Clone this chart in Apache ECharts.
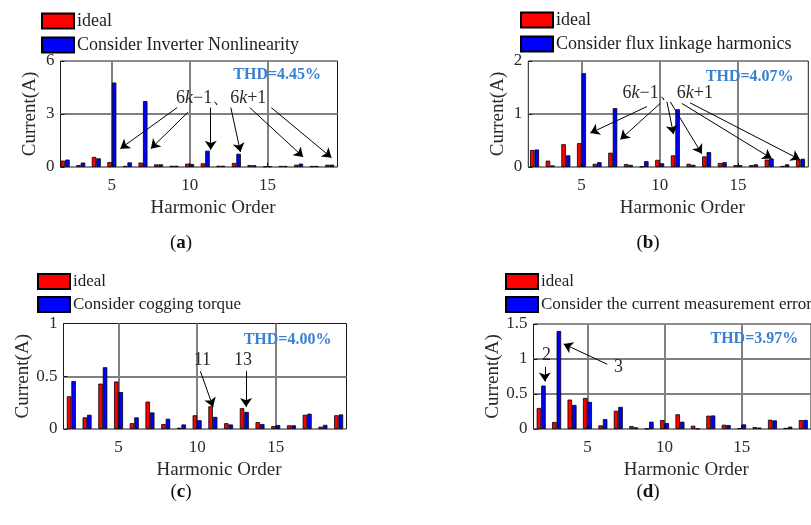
<!DOCTYPE html>
<html>
<head>
<meta charset="utf-8">
<script src="https://cdn.jsdelivr.net/npm/echarts@6/dist/echarts.min.js"></script>
<style>
  html, body { margin: 0; padding: 0; background: #fff; }
  #chart { width: 811px; height: 525px; }
</style>
</head>
<body>
<div id="chart"></div>
<script>
// Harmonic orders shown on every panel
const harmonicOrders = [2, 3, 4, 5, 6, 7, 8, 9, 10, 11, 12, 13, 14, 15, 16, 17, 18, 19];

// (a) inverter nonlinearity
const idealA = [0.36, 0.11, 0.57, 0.28, 0.06, 0.25, 0.15, 0.07, 0.19, 0.21, 0.07, 0.23, 0.11, 0.04, 0.06, 0.13, 0.06, 0.13];
const inverterA = [0.42, 0.25, 0.49, 4.78, 0.26, 3.73, 0.15, 0.07, 0.17, 0.92, 0.07, 0.75, 0.10, 0.04, 0.06, 0.19, 0.06, 0.13];

// (b) flux linkage harmonics
const idealB = [0.32, 0.12, 0.43, 0.45, 0.06, 0.27, 0.055, 0.01, 0.135, 0.22, 0.06, 0.20, 0.075, 0.035, 0.035, 0.14, 0.02, 0.14];
const fluxB = [0.33, 0.03, 0.22, 1.77, 0.09, 1.11, 0.04, 0.11, 0.07, 1.09, 0.04, 0.28, 0.09, 0.035, 0.05, 0.16, 0.05, 0.155];

// (c) cogging torque
const idealC = [0.31, 0.11, 0.43, 0.45, 0.055, 0.26, 0.047, 0.012, 0.13, 0.215, 0.055, 0.197, 0.065, 0.028, 0.035, 0.135, 0.022, 0.13];
const coggingC = [0.455, 0.135, 0.585, 0.35, 0.11, 0.157, 0.097, 0.043, 0.083, 0.115, 0.043, 0.162, 0.047, 0.037, 0.035, 0.145, 0.039, 0.138];

// (d) current measurement error
const idealD = [0.30, 0.10, 0.42, 0.443, 0.052, 0.26, 0.042, 0.005, 0.127, 0.21, 0.047, 0.19, 0.061, 0.012, 0.028, 0.132, 0.015, 0.127];
const measureD = [0.62, 1.40, 0.344, 0.387, 0.14, 0.316, 0.024, 0.104, 0.085, 0.104, 0.006, 0.193, 0.057, 0.066, 0.02, 0.123, 0.033, 0.13];

// Tick labels
const xTickValues = [5, 10, 15];
const thdLabels = ['THD=4.45%', 'THD=4.07%', 'THD=4.00%', 'THD=3.97%'];
const seriesNames = [
  ['ideal', 'Consider Inverter Nonlinearity'],
  ['ideal', 'Consider flux linkage harmonics'],
  ['ideal', 'Consider cogging torque'],
  ['ideal', 'Consider the current measurement error']
];
const panelTags = ['a', 'b', 'c', 'd'];

const SERIF = '"Liberation Serif", "Times New Roman", serif';
const TEXT = '#2a2a2a';

const panels = [
  {
    grid: { left: 60.5, top: 61, width: 277, height: 106 },
    xMin: 1.7, yMax: 6, yStep: 3,
    legend: { left: 41, top: 12, fontSize: 18 },
    values: [idealA, inverterA],
    thdAt: [15.48, 5.19],
    notes: [{ text: '6{i|k}−1、6{i|k}+1', at: [11.88, 3.9] }],
    arrows: [
      [[9.05, 3.36], [5.40, 1.04]],
      [[9.76, 3.11], [7.36, 1.04]],
      [[11.21, 3.36], [11.21, 0.98]],
      [[12.5, 3.36], [13.12, 0.85]],
      [[13.72, 3.36], [17.15, 0.57]],
      [[15.1, 3.36], [18.97, 0.53]]
    ],
    caption: [181, 243]
  },
  {
    grid: { left: 528.3, top: 61, width: 280, height: 106 },
    xMin: 1.6, yMax: 2, yStep: 1,
    legend: { left: 520, top: 11, fontSize: 18 },
    values: [idealB, fluxB],
    thdAt: [15.61, 1.70],
    notes: [{ text: '6{i|k}−1、6{i|k}+1', at: [10.37, 1.39] }],
    arrows: [
      [[9.04, 1.14], [5.42, 0.64]],
      [[9.89, 1.2], [7.34, 0.52]],
      [[10.32, 1.23], [10.74, 0.62]],
      [[10.53, 1.23], [12.55, 0.25]],
      [[11.27, 1.2], [17.02, 0.16]],
      [[11.8, 1.21], [18.82, 0.14]]
    ],
    caption: [648, 243]
  },
  {
    grid: { left: 63.5, top: 323.5, width: 283, height: 105.5 },
    xMin: 1.5, yMax: 1, yStep: 0.5,
    legend: { left: 37, top: 273, fontSize: 17 },
    values: [idealC, coggingC],
    thdAt: [15.61, 0.842],
    notes: [{ text: '11', at: [10.19, 0.652] }, { text: '13', at: [12.77, 0.652] }],
    arrows: [
      [[10.06, 0.548], [10.87, 0.209]],
      [[12.97, 0.548], [12.97, 0.209]]
    ],
    caption: [181, 492]
  },
  {
    grid: { left: 533.5, top: 324, width: 284.5, height: 105 },
    xMin: 1.5, yMax: 1.5, yStep: 0.5,
    legend: { left: 505, top: 273, fontSize: 17 },
    values: [idealD, measureD],
    thdAt: [15.68, 1.285],
    notes: [{ text: '2', at: [2.19, 1.05] }, { text: '3', at: [6.87, 0.878] }],
    arrows: [
      [[2.09, 0.888], [2.09, 0.68]],
      [[6.14, 0.925], [3.31, 1.215]]
    ],
    caption: [648, 492]
  }
];

const option = {
  backgroundColor: '#fff',
  animation: false,
  grid: [], xAxis: [], yAxis: [], legend: [], series: [], graphic: []
};

panels.forEach(function (p, k) {
  option.grid.push(Object.assign({
    show: true, borderColor: '#1a1a1a', borderWidth: 1, backgroundColor: 'transparent',
    containLabel: false
  }, p.grid));

  option.xAxis.push({
    type: 'value', gridIndex: k, min: p.xMin, max: 19.5,
    name: 'Harmonic Order', nameLocation: 'middle', nameGap: 32,
    nameTextStyle: { fontFamily: SERIF, fontSize: 19, color: TEXT, padding: [0, 0, 0, 28] },
    axisLine: { show: false },
    axisTick: { show: true, inside: true, length: 4, customValues: xTickValues, lineStyle: { color: '#1a1a1a' } },
    axisLabel: { customValues: xTickValues, fontFamily: SERIF, fontSize: 17, color: TEXT, margin: 10 },
    splitLine: { show: true, lineStyle: { color: '#808080', width: 2 } }
  });

  option.yAxis.push({
    type: 'value', gridIndex: k, min: 0, max: p.yMax, interval: p.yStep,
    name: 'Current(A)', nameLocation: 'middle', nameGap: 21,
    nameTextStyle: { fontFamily: SERIF, fontSize: 19, color: TEXT },
    axisLine: { show: false },
    axisTick: { show: true, inside: true, length: 4, lineStyle: { color: '#1a1a1a' } },
    axisLabel: { fontFamily: SERIF, fontSize: 17, color: TEXT, margin: 6 },
    splitLine: { show: true, showMinLine: false, showMaxLine: false, lineStyle: { color: '#808080', width: 2 } }
  });

  option.legend.push({
    data: seriesNames[k], orient: 'vertical', left: p.legend.left, top: p.legend.top,
    itemWidth: 32, itemHeight: 15, itemGap: 6, padding: 0, icon: 'rect', selectedMode: false,
    textStyle: { fontFamily: SERIF, fontSize: p.legend.fontSize, color: '#1e1e1e', padding: [0, 0, 0, -2] }
  });

  const colors = ['#ff0000', '#0000ff'];
  seriesNames[k].forEach(function (name, j) {
    const s = {
      type: 'bar', name: name, xAxisIndex: k, yAxisIndex: k,
      data: harmonicOrders.map(function (h, i) { return [h, p.values[j][i]]; }),
      barWidth: 4.5, barGap: '0%',
      itemStyle: { color: colors[j], borderColor: '#000', borderWidth: 0.8 },
      silent: true, clip: true
    };
    if (j === 1) {
      // annotation arrows and texts, placed in data space
      s.markLine = {
        silent: true, symbol: ['none', 'arrow'], symbolSize: 9, precision: 3,
        lineStyle: { color: '#000', width: 1, type: 'solid' },
        itemStyle: { color: '#000' },
        label: { show: false },
        emphasis: { disabled: true },
        data: p.arrows.map(function (a) { return [{ coord: a[0] }, { coord: a[1] }]; })
      };
      const pts = p.notes.map(function (n) {
        return {
          coord: n.at, value: n.text,
          label: {
            show: true, position: 'inside', formatter: n.text,
            fontFamily: SERIF, fontSize: 18, color: TEXT,
            rich: { i: { fontFamily: SERIF, fontSize: 18, fontStyle: 'italic', color: TEXT } }
          }
        };
      });
      pts.push({
        coord: p.thdAt, value: thdLabels[k],
        label: {
          show: true, position: 'inside', formatter: thdLabels[k],
          fontFamily: SERIF, fontSize: 16, fontWeight: 'bold', color: '#3a80d2'
        }
      });
      s.markPoint = {
        silent: true, symbol: 'circle', symbolSize: 1,
        itemStyle: { color: 'rgba(0,0,0,0)' },
        data: pts
      };
    }
    option.series.push(s);
  });

  option.graphic.push({
    type: 'text', x: p.caption[0], y: p.caption[1],
    style: {
      text: '({b|' + panelTags[k] + '})', align: 'center', verticalAlign: 'middle',
      fontFamily: SERIF, fontSize: 19, fill: '#111',
      rich: { b: { fontFamily: SERIF, fontSize: 19, fontWeight: 'bold', fill: '#111' } }
    }
  });
});

const chart = echarts.init(document.getElementById('chart'), null, { renderer: 'canvas' });
chart.setOption(option);
</script>
</body>
</html>
